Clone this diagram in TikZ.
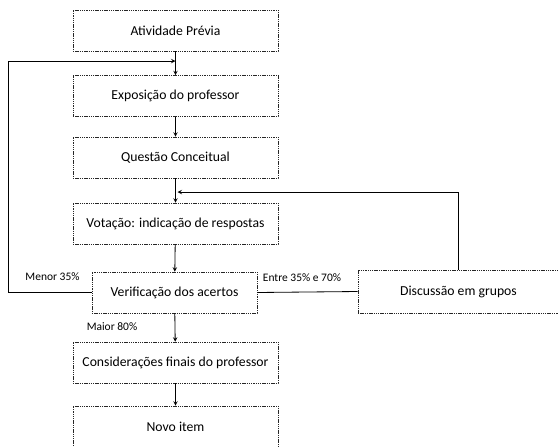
\documentclass[tikz,border=0pt]{standalone}
\usepackage{fontspec}
\setmainfont{Carlito}
\usepackage{xcolor}
\usepackage{tikz}
\usetikzlibrary{shapes,arrows,positioning,calc}

\begin{document}
\begin{tikzpicture}[x=0.03cm, y=-0.03cm, >=stealth, line width=0.7pt,
  etapa/.style={draw=black!85, dash pattern=on 1.2pt off 0.7pt, line width=0.5pt,
    minimum width=6.15cm, minimum height=1.23cm, font=\fontsize{11.7pt}{14pt}\selectfont},
  rotulo/.style={font=\fontsize{9.8pt}{11pt}\selectfont, inner sep=1pt}]
\useasboundingbox (0,0) rectangle (558,446);
\node[etapa] (AP) at (175.5,30.5) {Atividade Prévia};
\node[etapa] (EP) at (175.5,96) {Exposição do professor};
\node[etapa] (QC) at (175.5,157.5) {Questão Conceitual};
\node[etapa] (VT) at (175.5,223.5) {Votação: indicação de respostas};
\node[etapa, minimum width=4.95cm] (VA) at (174.5,292.5) {Verificação dos acertos};
\node[etapa] (CF) at (175.5,362.5) {Considerações finais do professor};
\node[etapa] (NI) at (175.5,426.5) {Novo item};
\node[etapa, minimum width=6.03cm, minimum height=1.29cm] (DG) at (458.5,291.5) {Discussão em grupos};
\coordinate (J1) at (175.5,61);
\coordinate (L1) at (8,61);
\coordinate (J2) at (177.5,192);
\draw[->] (AP) -- (EP);
\draw[->] (EP) -- (QC);
\draw[->] (QC) -- (VT);
\draw[->] (VT) -- (VA);
\draw[->] (VA) -- (CF);
\draw[->] (CF) -- (NI);
\draw[->] (VA.west) -| (L1) -- (J1);
\draw (VA.east) -- (DG.west);
\draw[->] (DG.north) |- (J2);
\node[rotulo] (MN) at (52.5,277) {Menor 35\%};
\node[rotulo] (EN) at (302,278) {Entre 35\% e 70\%};
\node[rotulo] (MA) at (112,327) {Maior 80\%};
\end{tikzpicture}
\end{document}
